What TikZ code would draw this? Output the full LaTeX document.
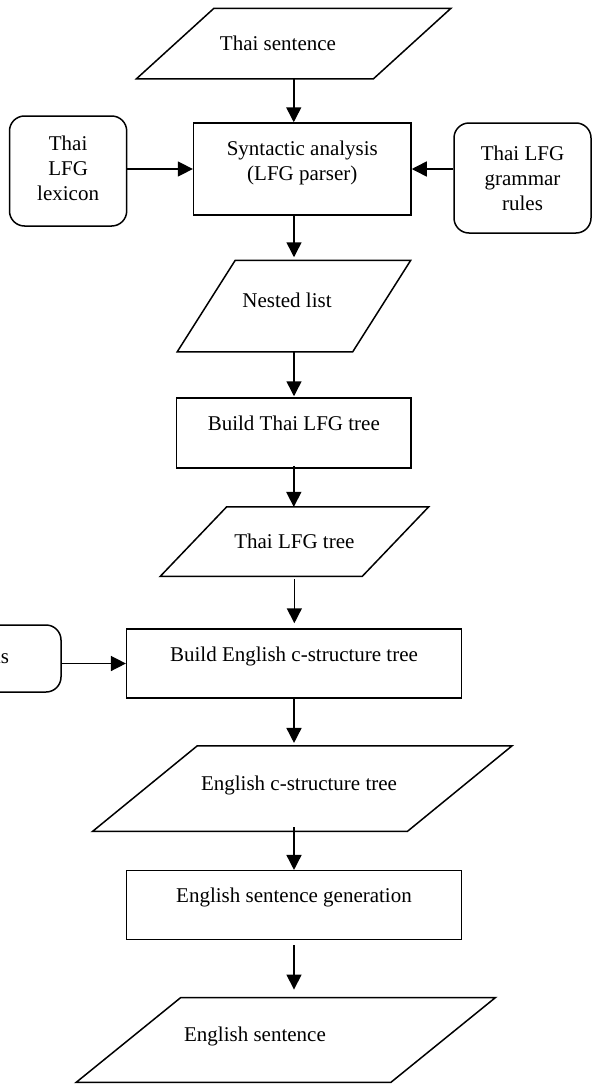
\documentclass[tikz,border=0pt]{standalone}
\usepackage{fontspec}
\setmainfont{Liberation Serif}
\usetikzlibrary{arrows.meta}
\newcommand\slantframe[2]{%
  \draw ([xshift=#2]#1.north west) -- ([xshift=#2]#1.north east)
    -- ([xshift=-#2]#1.south east) -- ([xshift=-#2]#1.south west) -- cycle;}
\begin{document}
\begin{tikzpicture}[x=1pt, y=-1pt, line width=1.5pt,
  every node/.style={font=\fontsize{21}{25}\selectfont},
  iobox/.style 2 args={minimum width=#1, minimum height=#2, inner sep=0pt},
  procbox/.style 2 args={draw, minimum width=#1, minimum height=#2, inner sep=0pt,
    align=center, text height=32pt, text depth=#2-32pt},
  storebox/.style 2 args={draw, rounded corners=15pt, minimum width=#1,
    minimum height=#2, inner sep=0pt, align=center},
  flow/.style={-{Triangle[length=15pt,width=15pt]}}]
  \useasboundingbox (0,0) rectangle (593,1084);
  \node[iobox={235.5pt}{69pt}, label={[xshift=-15.75pt]center:Thai sentence}] (thaisent) at (293.75,43.5) {};
  \slantframe{thaisent}{38.75pt}
  \node[procbox={217.4pt}{92pt}, text height=57pt, text depth=35pt] (syn) at (302.3,169) {Syntactic analysis\\(LFG parser)};
  \node[storebox={117.2pt}{110pt}, text depth=6pt] (lexicon) at (68.1,171) {Thai\\LFG\\lexicon};
  \node[storebox={137pt}{110pt}] (grammar) at (522.5,178) {Thai LFG\\grammar\\rules};
  \node[iobox={174pt}{90pt}, label={[xshift=-7pt, yshift=5.3pt]center:Nested list}] (nested) at (294,306) {};
  \slantframe{nested}{29pt}
  \node[procbox={234.4pt}{70pt}] (buildthai) at (293.8,433) {Build Thai LFG tree};
  \node[iobox={200.5pt}{68pt}] (thaitree) at (294.35,541.7) {Thai LFG tree};
  \slantframe{thaitree}{33.2pt}
  \node[procbox={334.7pt}{69pt}] (buildeng) at (294,663.5) {Build English c-structure tree};
  \node[storebox={122.6pt}{67pt}, text height=10pt, text depth=0pt] (rules) at (-0.3,658.5) {ns};
  \node[iobox={313.3pt}{84pt}, label={[xshift=-3.2pt, yshift=3.7pt]center:English c-structure tree}] (engtree) at (302.2,788.7) {};
  \slantframe{engtree}{52.3pt}
  \node[procbox={334.7pt}{68.6pt}] (gen) at (294,905) {English sentence generation};
  \node[iobox={313.2pt}{83.4pt}, label={[xshift=-30.75pt, yshift=3.3pt]center:English sentence}] (engsent) at (285.75,1040) {};
  \slantframe{engsent}{52.35pt}

  \draw[flow] (thaisent.south) -- (thaisent.south |- syn.north);
  \draw[flow] (lexicon.east |- syn.west) -- (syn.west);
  \draw[flow] (grammar.west |- syn.east) -- (syn.east);
  \draw[flow, shorten >=3pt] (nested.north |- syn.south) -- (nested.north);
  \draw[flow, shorten >=1pt] (nested.south) -- (nested.south |- buildthai.north);
  \draw[flow, shorten <=-3pt] (buildthai.south) -- (buildthai.south |- thaitree.north);
  \draw[flow, shorten <=3pt, shorten >=5pt] (thaitree.south) -- (thaitree.south |- buildeng.north);
  \draw[flow] (rules.east |- buildeng.west) -- (buildeng.west);
  \draw[flow, shorten >=3pt] (buildeng.south) -- (buildeng.south |- engtree.north);
  \draw[flow, shorten <=-4pt] (engtree.south -| gen.north) -- (gen.north);
  \draw[flow, shorten <=5pt, shorten >=8pt] (gen.south) -- (gen.south |- engsent.north);
\end{tikzpicture}
\end{document}
